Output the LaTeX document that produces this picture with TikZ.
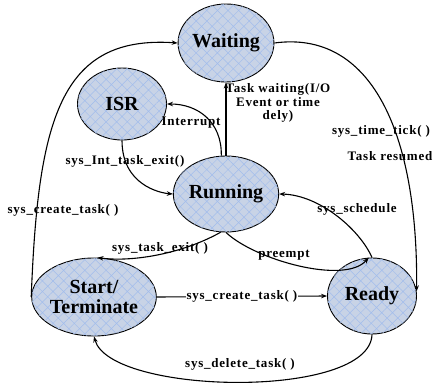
\documentclass[tikz,border=0pt]{standalone}
\usepackage{fontspec}
\setmainfont{Liberation Serif}
\newfontfamily\lblfont[LetterSpace=6]{Liberation Serif}
\usetikzlibrary{shapes.geometric,patterns.meta,arrows.meta}
\definecolor{stfill}{HTML}{C8D3E6}
\definecolor{sthatch}{HTML}{A2BDEC}
\tikzset{
  state/.style={ellipse, draw=black, line width=0.9pt, fill=stfill, inner sep=0pt,
    postaction={pattern={Hatch[angle=45,distance=7.5pt,line width=0.5pt]}, pattern color=sthatch},
    font=\fontsize{20}{20}\selectfont\bfseries, align=center},
  conn/.style={line width=1.1pt, -{Stealth[length=6pt,width=4.5pt]}},
  lbl/.style={font=\lblfont\fontsize{13}{13.5}\selectfont\bfseries, inner sep=1pt, align=center}
}
\begin{document}
\begin{tikzpicture}[x=1pt,y=-1pt]
\useasboundingbox (0,0) rectangle (433,387);
\node[state, minimum width=94pt, minimum height=78pt] (W) at (226,43) {Waiting};
\node[state, minimum width=89pt, minimum height=72pt] (I) at (122,104) {ISR};
\node[state, minimum width=91pt, minimum height=76pt] (Ru) at (226,194) {Running};
\node[state, minimum width=92pt, minimum height=78pt] (St) at (94,297) {Start/\\Terminate};
\node[state, minimum width=89pt, minimum height=76pt] (Re) at (372,296) {Ready};

% Start -> Waiting
\draw[conn] (St.180) .. controls (38,120) and (60,35) .. (W.180);
% Waiting -> Ready
\draw[conn] (W.0) .. controls (370,30) and (418,130) .. (Re.6);
% Running -> Waiting
\draw[conn] (Ru.90) -- (W.270);
% Running -> ISR
\draw[conn] (Ru.97) .. controls (222,122) and (198,104) .. (I.0);
% ISR -> Running
\draw[conn] (I.270) .. controls (122,185) and (160,193) .. (Ru.180);
% Ready -> Running
\draw[conn] (Re.90) .. controls (360,230) and (320,195) .. (Ru.0);
% Running -> Ready (preempt)
\draw[conn] (Ru.270) .. controls (255,260) and (345,285) .. (Re.95);
% Running -> Start
\draw[conn] (Ru.262) .. controls (180,255) and (130,262) .. (St.85);
% Ready -> Start
\draw[conn] (Re.270) .. controls (370,400) and (110,395) .. (St.270);
% Start -> Ready
\draw[conn] (St.0) -- node[lbl, fill=white] (l9) {sys\_create\_task( )} (Re.180);

\node[lbl] (l1) at (63,210) {sys\_create\_task( )};
\node[lbl] (l2) at (381,131) {sys\_time\_tick( )};
\node[lbl] (l3) at (390,156) {Task resumed};
\node[lbl] (l4) at (278,103) {Task waiting(I/O\\Event or time\\dely)};
\node[lbl] (l5) at (191,123) {Interrupt};
\node[lbl] (l6) at (125,161) {sys\_Int\_task\_exit()};
\node[lbl] (l7) at (357,209) {sys\_schedule};
\node[lbl] (l8) at (160,248) {sys\_task\_exit( )};
\node[lbl] (l10) at (284,255) {preempt};
\node[lbl] (l11) at (240,364) {sys\_delete\_task( )};
\end{tikzpicture}
\end{document}
